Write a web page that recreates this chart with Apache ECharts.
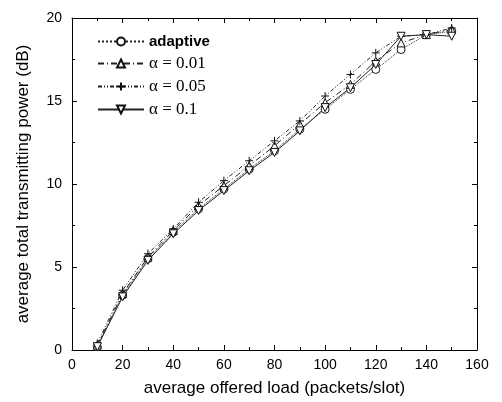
<!DOCTYPE html>
<html><head><meta charset="utf-8">
<script src="https://cdn.jsdelivr.net/npm/echarts@6/dist/echarts.min.js"></script>
<style>html,body{margin:0;padding:0;background:#fff}#c{width:502px;height:402px}</style>
</head><body><div id="c"></div>
<script>
var loads = [10,20,30,40,50,60,70,80,90,100,110,120,130,140,150];
var adaptive = [0.2,3.3,5.5,7.1,8.5,9.7,10.9,12.0,13.3,14.5,15.7,16.9,18.1,19.0,19.2];
var a001 = [0.3,3.4,5.6,7.2,8.7,9.9,11.1,12.3,13.6,14.9,16.0,17.4,18.5,19.0,19.3];
var a005 = [0.4,3.6,5.8,7.3,8.9,10.2,11.4,12.6,13.8,15.3,16.6,17.9,18.9,19.0,19.4];
var a01 = [0.2,3.2,5.4,7.0,8.4,9.6,10.8,11.9,13.2,14.6,15.8,17.2,18.9,19.0,18.9];
var names = ['adaptive','α = 0.01','α = 0.05','α = 0.1'];

var plusPath = 'path://M0,5L10,5M5,0L5,10';
function pairs(ys){return loads.map(function(x,i){return [x,ys[i]];});}
function mk(name, ys, symbol, dash){
  return {name:name,type:'line',data:pairs(ys),symbol:symbol,symbolSize:8,
    showSymbol:true,
    itemStyle:{color:'#fff',borderColor:'#111',borderWidth:1},
    lineStyle:{color:'#222',width:1,type:dash},
    emphasis:{disabled:true},animation:false};
}
var chart = echarts.init(document.getElementById('c'));
var axisCommon = {
  axisLine:{onZero:false,lineStyle:{color:'#000',width:1}},
  axisTick:{inside:true,length:5,lineStyle:{color:'#000'}},
  minorTick:{show:true,splitNumber:2,length:3,lineStyle:{color:'#000'}},
  splitLine:{show:false}
};
chart.setOption({
  animation:false,
  grid:{left:72,right:25,top:18,bottom:51},
  legend:{left:92,top:29,orient:'vertical',itemGap:6,itemWidth:46,itemHeight:10,
    textStyle:{fontFamily:'Liberation Serif',fontSize:17,color:'#000'},
    data:[{name:names[0],textStyle:{fontFamily:'Liberation Sans',fontSize:15,fontWeight:'bold'}},names[1],names[2],names[3]]},
  xAxis:[Object.assign({type:'value',min:0,max:160,interval:20,
      name:'average offered load (packets/slot)',nameLocation:'middle',nameGap:30,
      nameTextStyle:{fontFamily:'Liberation Sans',fontSize:17,color:'#000'},
      axisLabel:{fontFamily:'Liberation Sans',fontSize:14,color:'#000',margin:8}},axisCommon),
    Object.assign({type:'value',min:0,max:160,interval:20,position:'top',axisLabel:{show:false}},axisCommon)],
  yAxis:[Object.assign({type:'value',min:0,max:20,interval:5,
      name:'average total transmitting power (dB)',nameLocation:'middle',nameGap:40,
      nameTextStyle:{fontFamily:'Liberation Sans',fontSize:17,color:'#000'},
      axisLabel:{fontFamily:'Liberation Sans',fontSize:14,color:'#000',margin:10}},axisCommon),
    Object.assign({type:'value',min:0,max:20,interval:5,position:'right',axisLabel:{show:false}},axisCommon)],
  series:[
    mk(names[0],adaptive,'circle','dotted'),
    mk(names[1],a001,'triangle',[6,3,1,3]),
    mk(names[2],a005,plusPath,[4,2,1,2,1,2]),
    mk(names[3],a01,'path://M0,0L10,0L5,10Z','solid')
  ]
});
</script></body></html>
